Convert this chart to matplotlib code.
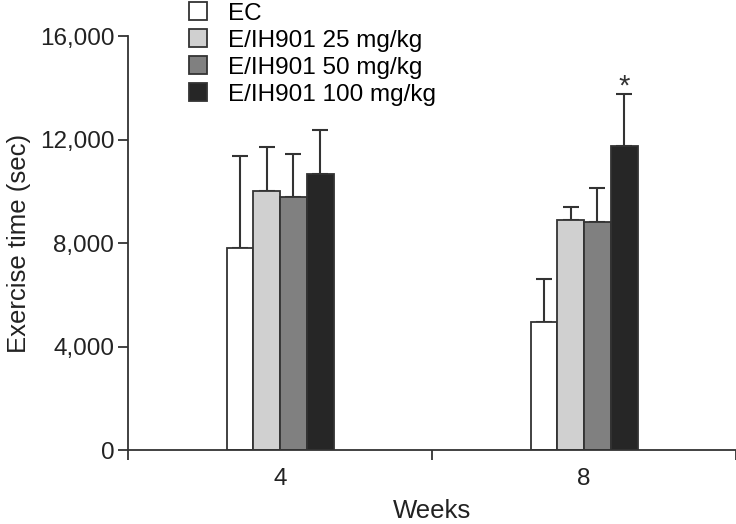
import matplotlib.pyplot as plt
import numpy as np

plt.rcParams['font.family'] = ['Liberation Sans', 'DejaVu Sans']

weeks = ["4", "8"]
groups = ["EC", "E/IH901 25 mg/kg", "E/IH901 50 mg/kg", "E/IH901 100 mg/kg"]
colors = ["#ffffff", "#d0d0d0", "#808080", "#262626"]

# mean values per group (rows) for week 4 and week 8
means = [
    [7830, 4960],
    [10020, 8910],
    [9790, 8810],
    [10670, 11760],
]
errs_top = [
    [11370, 6610],
    [11720, 9390],
    [11430, 10120],
    [12370, 13760],
]

fig = plt.figure(figsize=(7.36, 5.24), dpi=100)
ax = fig.add_axes([0.174, 0.141, 0.826, 0.790])

x = np.arange(len(weeks))
width = 0.088
for i in range(len(groups)):
    pos = x + (i - 1.5) * width
    m = np.array(means[i])
    e = np.array(errs_top[i]) - m
    ax.bar(pos, m, width, color=colors[i], edgecolor="#333333", linewidth=1.3,
           label=groups[i], zorder=2)
    ax.errorbar(pos, m, yerr=[np.zeros_like(e), e], fmt="none", ecolor="#333333",
                elinewidth=1.5, capsize=6, capthick=1.5, zorder=1)

# significance mark
ax.text(x[1] + 1.5 * width, errs_top[3][1] - 250, "*", ha="center", va="bottom",
        fontsize=21, color="#333333")

ax.set_xlim(-0.5, 1.5)
ax.set_ylim(0, 16000)
ax.set_yticks([0, 4000, 8000, 12000, 16000])
ax.set_yticklabels(["0", "4,000", "8,000", "12,000", "16,000"])
ax.set_xticks([-0.5, 0.5, 1.5])
ax.set_xticklabels([])
ax.set_xticks(x, minor=True)
ax.set_xticklabels(weeks, minor=True)
ax.tick_params(axis="x", which="minor", length=0, pad=13, labelsize=17.5,
               labelcolor="#222222")
ax.tick_params(axis="x", which="major", length=7, width=1.3, color="#333333")
ax.tick_params(axis="y", length=7, width=1.3, color="#333333", labelsize=17.5,
               pad=3, labelcolor="#222222")

for s in ["top", "right"]:
    ax.spines[s].set_visible(False)
for s in ["left", "bottom"]:
    ax.spines[s].set_linewidth(1.3)
    ax.spines[s].set_color("#333333")

ax.set_xlabel("Weeks", fontsize=18.5, labelpad=6, color="#222222")
ax.set_ylabel("Exercise time (sec)", fontsize=18.5, labelpad=6, color="#222222")

ax.legend(loc="upper left", bbox_to_anchor=(0.085, 1.105), frameon=False,
          fontsize=17.5, handlelength=0.72, handleheight=0.72, labelspacing=0.2,
          handletextpad=0.85, borderaxespad=0)

fig.savefig("out.png", dpi=100)
